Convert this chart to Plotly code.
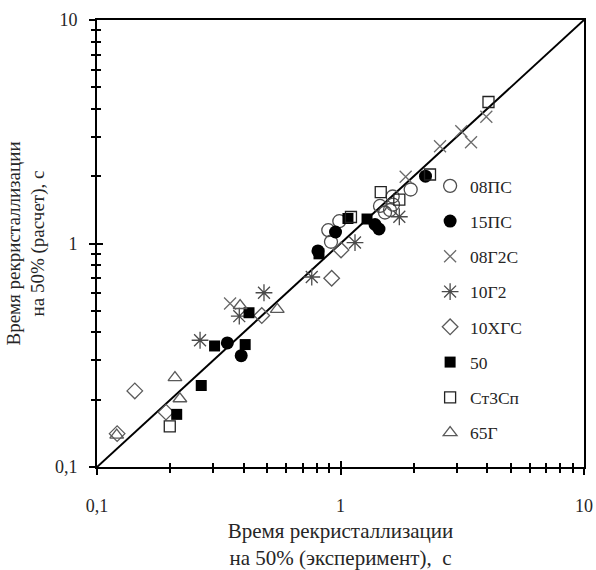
import plotly.graph_objects as go

# ---- data (experiment x, calculation y), seconds ----
s08PS_x = [0.891, 0.989, 0.914, 1.453, 1.597, 1.638, 1.942, 1.523, 1.643]
s08PS_y = [1.147, 1.258, 1.018, 1.472, 1.412, 1.623, 1.744, 1.376, 1.494]

s15PS_x = [0.808, 0.954, 1.386, 1.439, 2.234, 0.343, 0.391]
s15PS_y = [0.926, 1.126, 1.216, 1.161, 2.00, 0.359, 0.315]

s08G2S_x = [1.852, 2.563, 3.134, 3.436, 3.97, 0.352]
s08G2S_y = [1.988, 2.725, 3.18, 2.84, 3.69, 0.539]

s10G2_x = [0.265, 0.384, 0.485, 0.762, 1.147, 1.744]
s10G2_y = [0.369, 0.473, 0.602, 0.708, 1.01, 1.317]

s10HGS_x = [0.121, 0.143, 0.192, 0.475, 0.920, 1.005]
s10HGS_y = [0.141, 0.219, 0.176, 0.476, 0.699, 0.935]

s50_x = [0.2125, 0.268, 0.304, 0.406, 0.421, 0.816, 1.073, 1.285]
s50_y = [0.172, 0.2315, 0.348, 0.353, 0.490, 0.899, 1.294, 1.287]

sSt3_x = [0.199, 1.104, 1.463, 1.744, 2.331, 4.053]
sSt3_y = [0.152, 1.314, 1.696, 1.573, 2.036, 4.297]

s65G_x = [0.1205, 0.209, 0.219, 0.387, 0.550]
s65G_y = [0.139, 0.251, 0.202, 0.528, 0.507]

diag = [0.1, 10]

series_names = ["08ПС", "15ПС", "08Г2С", "10Г2", "10ХГС", "50", "Ст3Сп", "65Г"]

major_vals = [0.1, 1, 10]
major_text = ["0,1", "1", "10"]
minor_vals = [0.2, 0.3, 0.4, 0.5, 0.6, 0.7, 0.8, 0.9, 2, 3, 4, 5, 6, 7, 8, 9]

x_title = "Время рекристаллизации<br>на 50% (эксперимент),  с"
y_title = "Время рекристаллизации<br>на 50% (расчет), с"

FONT = "Liberation Serif"
TXT = "#262626"

styles = [
    dict(symbol="circle-open", size=13, color="#4d4d4d", line=dict(width=1.3, color="#4d4d4d")),
    dict(symbol="circle", size=13, color="black"),
    dict(symbol="x-thin-open", size=12, color="#6b6b6b", line=dict(width=1.3, color="#6b6b6b")),
    dict(symbol="asterisk-open", size=14, color="#4a4a4a", line=dict(width=1.3, color="#4a4a4a")),
    dict(symbol="diamond-open", size=12, color="#5a5a5a", line=dict(width=1.3, color="#5a5a5a")),
    dict(symbol="square", size=11, color="black"),
    dict(symbol="square-open", size=11, color="#222222", line=dict(width=1.3, color="#222222")),
    dict(symbol="triangle-up-open", size=12, color="#5a5a5a", line=dict(width=1.3, color="#5a5a5a")),
]

xs = [s08PS_x, s15PS_x, s08G2S_x, s10G2_x, s10HGS_x, s50_x, sSt3_x, s65G_x]
ys = [s08PS_y, s15PS_y, s08G2S_y, s10G2_y, s10HGS_y, s50_y, sSt3_y, s65G_y]

fig = go.Figure()

fig.add_trace(go.Scatter(x=diag, y=diag, mode="lines",
                         line=dict(color="black", width=2),
                         showlegend=False, hoverinfo="skip"))

for i, (name, x, y, st) in enumerate(zip(series_names, xs, ys, styles)):
    fig.add_trace(go.Scatter(x=x, y=y, mode="markers", name=name,
                             legendgroup=name, marker=st))

# dummy trace so the overlay (inside-tick) axes are drawn
fig.add_trace(go.Scatter(x=diag, y=diag, mode="none", xaxis="x2", yaxis="y2",
                         showlegend=False, hoverinfo="skip"))

axis_common = dict(type="log", range=[-1, 1], showgrid=False, zeroline=False,
                   automargin=False)

fig.update_layout(
    width=596, height=570,
    margin=dict(l=97, r=12, t=20, b=103),
    paper_bgcolor="white", plot_bgcolor="white",
    font=dict(family=FONT, size=18, color=TXT),
    xaxis=dict(**axis_common, tickvals=major_vals, ticktext=major_text,
               ticks="outside", ticklen=6, tickwidth=1.5, tickcolor="black",
               minor=dict(tickvals=minor_vals, ticks="outside", ticklen=4,
                          tickwidth=1.5, tickcolor="black"),
               showline=True, linecolor="black", linewidth=2, mirror=True,
               ticklabelstandoff=15,
               title=dict(text=x_title, standoff=11, font=dict(size=21, family=FONT, color=TXT)),
               tickfont=dict(size=18, family=FONT, color=TXT)),
    yaxis=dict(**axis_common, tickvals=major_vals, ticktext=major_text,
               ticks="outside", ticklen=6, tickwidth=1.5, tickcolor="black",
               minor=dict(tickvals=minor_vals, ticks="outside", ticklen=4,
                          tickwidth=1.5, tickcolor="black"),
               showline=True, linecolor="black", linewidth=2, mirror=True,
               ticklabelstandoff=8,
               title=dict(text=y_title, standoff=5, font=dict(size=19, family=FONT, color=TXT)),
               tickfont=dict(size=18, family=FONT, color=TXT)),
    xaxis2=dict(**axis_common, overlaying="x", anchor="y2", side="bottom",
                tickvals=major_vals, ticks="inside", ticklen=6, tickwidth=1.5,
                tickcolor="black", showticklabels=False, showline=False,
                minor=dict(tickvals=minor_vals, ticks="inside", ticklen=4,
                           tickwidth=1.5, tickcolor="black")),
    yaxis2=dict(**axis_common, overlaying="y", anchor="x2", side="left",
                tickvals=major_vals, ticks="inside", ticklen=6, tickwidth=1.5,
                tickcolor="black", showticklabels=False, showline=False,
                minor=dict(tickvals=minor_vals, ticks="inside", ticklen=4,
                           tickwidth=1.5, tickcolor="black")),
    legend=dict(x=0.684, y=0.669, xanchor="left", yanchor="top",
                bgcolor="rgba(0,0,0,0)", tracegroupgap=9.5,
                font=dict(size=17.5, family=FONT, color=TXT)),
    showlegend=True,
)

fig.write_html("out.html",
               config={"displayModeBar": False},
               post_script="document.body.style.margin='0px';document.body.style.overflow='hidden';")
